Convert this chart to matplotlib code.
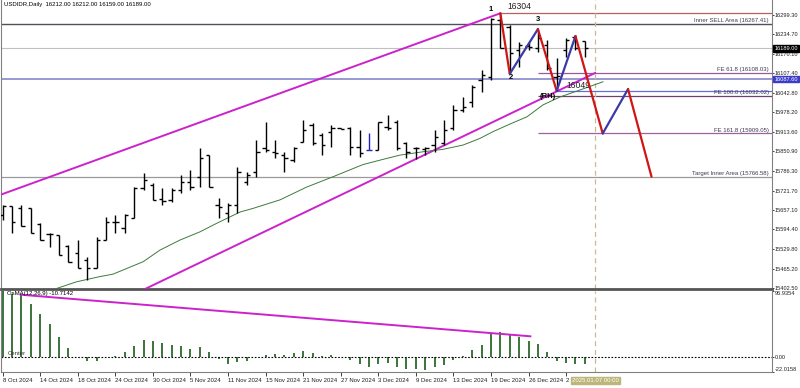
import matplotlib
matplotlib.use('Agg')
import matplotlib.pyplot as plt
from matplotlib import font_manager
from matplotlib.transforms import blended_transform_factory

# narrow font to mimic the terminal's small pixel font
names = {f.name for f in font_manager.fontManager.ttflist}
if 'Liberation Sans Narrow' in names:
    FONT, fs = 'Liberation Sans Narrow', 5.0
else:
    FONT, fs = 'Liberation Sans', 4.3
plt.rcParams['font.family'] = [FONT, 'DejaVu Sans']
fs_axis = fs * 0.94

# USDIDR daily bars, 8 Oct 2024 .. 6 Jan 2025 (bar index 0..62)
opens = [15641, 15671, 15663, 15663, 15612, 15579, 15576, 15540, 15516, 15494,
         15466, 15559, 15619, 15598, 15630, 15729, 15740, 15693, 15691, 15723,
         15751, 15767, 15838, 15674, 15647, 15674, 15751, 15784, 15860, 15849,
         15838, 15822, 15882, 15937, 15904, 15915, 15926, 15926, 15866, 15855,
         15855, 15931, 15948, 15878, 15861, 15858, 15871, 15877, 15926, 15986,
         16013, 16085, 16096, 16282, 16260, 16183, 16196, 16190, 16200, 16095,
         16183, 16226, 16212]
highs = [15674, 15671, 15674, 15663, 15614, 15581, 15576, 15543, 15559, 15504,
         15570, 15634, 15641, 15644, 15734, 15778, 15745, 15729, 15729, 15773,
         15789, 15860, 15838, 15696, 15680, 15800, 15784, 15888, 15948, 15888,
         15849, 15866, 15953, 15943, 15910, 15937, 15928, 15931, 15920, 15910,
         15948, 15970, 15953, 15882, 15866, 15866, 15920, 15953, 16003, 16028,
         16068, 16118, 16290, 16304, 16265, 16211, 16211, 16252, 16216, 16157,
         16223, 16231, 16212]
lows = [15625, 15581, 15605, 15581, 15559, 15537, 15510, 15488, 15466, 15428,
        15466, 15559, 15581, 15581, 15630, 15723, 15691, 15674, 15685, 15713,
        15723, 15734, 15734, 15630, 15619, 15647, 15740, 15767, 15849, 15828,
        15784, 15816, 15882, 15871, 15838, 15866, 15923, 15838, 15833, 15855,
        15855, 15920, 15855, 15828, 15824, 15838, 15849, 15871, 15920, 15981,
        15997, 16046, 16085, 16189, 16105, 16128, 16183, 16177, 16118, 16049,
        16160, 16183, 16159]
closes = [15671, 15619, 15605, 15581, 15559, 15578, 15510, 15488, 15466, 15466,
          15559, 15619, 15617, 15641, 15729, 15756, 15691, 15688, 15723, 15751,
          15734, 15828, 15734, 15669, 15674, 15784, 15773, 15849, 15855, 15844,
          15828, 15860, 15920, 15877, 15871, 15926, 15925, 15866, 15844, 15855,
          15946, 15926, 15860, 15848, 15860, 15861, 15899, 15920, 15986, 15997,
          16063, 16101, 16284, 16190, 16172, 16200, 16192, 16222, 16124, 16098,
          16216, 16190, 16189]
blue_bar = 39

osma = [96.9, 93.0, 93.0, 77.9, 63.2, 48.5, 29.4, 13.2, 0.5, -6.3,
        -5.4, 0.3, 1.5, 6.9, 16.6, 24.5, 23.1, 20.6, 17.2, 16.2,
        11.8, 14.7, 7.3, -2.5, -10.3, -7.3, -6.3, -0.5, 2.9, 4.8,
        3.4, 5.9, 9.3, 6.3, 0.8, 2.3, 0.4, -4.0, -10.3, -14.7,
        -10.3, -9.3, -14.0, -17.2, -17.2, -18.7, -14.7, -11.3, -4.0, 1.9,
        10.7, 17.2, 33.8, 36.7, 31.9, 28.9, 23.1, 19.1, 7.3, -5.4,
        -8.8, -10.3, -10.7]

# moving average trace (bar index, price)
ma_x = [5.75, 7.88, 10.36, 11.75, 14.97, 16.75, 18.88, 21.01, 22.79, 25.27,
        26.66, 29.53, 32.37, 35.18, 38.37, 40.5, 42.31, 44.76, 46.89, 49.02,
        50.83, 52.21, 54.02, 55.84, 57.54, 59.35, 61.48, 63.93]
ma_y = [15400, 15422, 15439, 15447, 15488, 15526, 15559, 15586, 15614, 15651,
        15663, 15691, 15733, 15767, 15807, 15824, 15838, 15849, 15857, 15871,
        15893, 15915, 15940, 15964, 16003, 16029, 16052, 16079]

# channel lines
upper_x = [-0.3, 53]
upper_y = [15707, 16304]
lower_x = [14.94, 63.1]
lower_y = [15395, 16108]

# zigzag wave count (existing + projection)
zz_x = [53, 54, 57, 59, 61, 63.9, 66.6, 69.1]
zz_y = [16304, 16105, 16252, 16049, 16229, 15909, 16055, 15767]

# levels
inner_sell = 16267.41
fe618 = 16108.03
fe100 = 16032.02
fe1618 = 15909.05
target = 15766.58
top_level = 16304
low_level = 16049
blue_level = 16087.60
bid = 16189.00

price_ticks = [16299.30, 16234.70, 16170.10, 16107.40, 16042.80, 15978.20,
               15913.60, 15850.90, 15786.30, 15721.70, 15657.10, 15594.40,
               15529.80, 15465.20, 15402.50]
date_pos = list(range(0, 61, 4))
date_labels = ['8 Oct 2024', '14 Oct 2024', '18 Oct 2024', '24 Oct 2024',
               '30 Oct 2024', '5 Nov 2024', '11 Nov 2024', '15 Nov 2024',
               '21 Nov 2024', '27 Nov 2024', '3 Dec 2024', '9 Dec 2024',
               '13 Dec 2024', '19 Dec 2024', '26 Dec 2024', '2 Jan 2025']

osma_div_x = [1.9, 56.2]
osma_div_y = [91.5, 30.4]
cursor_x = 63.1

fig = plt.figure(figsize=(8, 3.88), dpi=100)
W, H = 800, 388
ax = fig.add_axes([1 / W, 1 - 289 / H, 771 / W, 289 / H])
ax2 = fig.add_axes([1 / W, 1 - 372 / H, 771 / W, 81 / H])

XL = (-0.18, 81.93)
ax.set_xlim(*XL)
ax.set_ylim(15398.2, 16347.6)
ax2.set_xlim(*XL)
ax2.set_ylim(-22.0158, 96.9354)

lvl_txt = '#3c3c50'

# full-width horizontal lines
ax.axhline(inner_sell, color='#505058', lw=1.0)
ax.axhline(bid, color='#c0c0c0', lw=0.8)
ax.axhline(blue_level, color='#8888cc', lw=1.2)
ax.axhline(target, color='#9a9a9a', lw=0.9)
# partial lines
ax.hlines(top_level, 53, XL[1], color='#b86060', lw=0.9)
ax.hlines([fe618, fe100, fe1618], 57, XL[1], color=['#9a5a9a', '#6e406e', '#a060a0'], lw=0.9)
ax.hlines(low_level, 59, XL[1], color='#6a6ae0', lw=0.9)

for y, s in [(inner_sell, 'Inner SELL Area (16267.41)'), (fe618, 'FE 61.8 (16108.03)'),
             (fe100, 'FE 100.0 (16032.02)'), (fe1618, 'FE 161.8 (15909.05)'),
             (target, 'Target Inner Area (15766.58)')]:
    ax.text(81.6, y + 3, s, ha='right', va='bottom', fontsize=fs, color=lvl_txt)

# channel and MA
ax.plot(upper_x, upper_y, color='#cc22cc', lw=1.4, zorder=3)
ax.plot(lower_x, lower_y, color='#cc22cc', lw=1.4, zorder=3)
ax.plot(ma_x, ma_y, color='#3d7a3d', lw=0.7, zorder=3)

# OHLC bars
idx = list(range(len(opens)))
cols = ['#2020c0' if i == blue_bar else 'black' for i in idx]
ax.vlines(idx, lows, highs, colors=cols, lw=1.0, zorder=4)
ax.hlines(opens, [i - 0.35 for i in idx], idx, colors=cols, lw=1.0, zorder=4)
ax.hlines(closes, idx, [i + 0.35 for i in idx], colors=cols, lw=1.0, zorder=4)

# zigzag
for k in range(len(zz_x) - 1):
    c = '#d01515' if zz_y[k + 1] < zz_y[k] else '#3a3aa8'
    ax.plot(zz_x[k:k + 2], zz_y[k:k + 2], color=c, lw=1.6, zorder=5,
            solid_capstyle='round')

ann = dict(fontsize=6.2, va='center', ha='left', color='#202020', family='Liberation Sans')
ax.text(53.7, 16325, '16304', **ann)
ax.text(60.0, 16068, '16049', **ann)
bold = dict(fontsize=5.5, fontweight='bold', ha='center', va='center', family='Liberation Sans')
ax.text(52.0, 16318, '1', **bold)
ax.text(54.1, 16094, '2', **bold)
ax.text(57.0, 16285, '3', **bold)
ax.text(58.1, 16030, '(RH)', **bold)

ax.axvline(cursor_x, color='#c8bc96', lw=0.9, ls=(0, (4, 3)))
ax2.axvline(cursor_x, color='#c8bc96', lw=0.9, ls=(0, (4, 3)))

# oscillator
ax2.vlines(idx, 0, osma, colors='#2a6a2a', lw=1.3)
ax2.axhline(0, color='black', lw=0.8, ls=(0, (1.5, 1.5)))
ax2.plot(osma_div_x, osma_div_y, color='#cc22cc', lw=1.4)
ax2.text(0.5, 93.5, 'OsMA(12,26,9) -10.7142', fontsize=fs, va='center', ha='left')
ax2.text(0.5, 4.5, 'Center', fontsize=fs, va='center', ha='left', color='#303030')

# axes styling
for a in (ax, ax2):
    a.set_facecolor('white')
    a.yaxis.tick_right()
    a.tick_params(axis='y', length=1.5, width=0.6, labelsize=fs_axis, pad=0.6, colors='#202020')
    for s in a.spines.values():
        s.set_color('#808080')
        s.set_linewidth(0.8)
ax.spines['bottom'].set_color('#555555')
ax.spines['bottom'].set_linewidth(2.0)
ax.spines['top'].set_visible(False)
ax.set_xticks([])
ax.set_yticks(price_ticks)
ax.set_yticklabels(['%.2f' % v for v in price_ticks])

ax2.spines['top'].set_visible(False)
ax2.set_yticks([96.9354, 0, -22.0158])
ax2.set_yticklabels(['96.9354', '0.00', '-22.0158'])
ax2.get_yticklabels()[0].set_va('top')
ax2.get_yticklabels()[2].set_va('bottom')
ax2.set_xticks(date_pos)
ax2.set_xticklabels(date_labels, ha='left')
ax2.tick_params(axis='x', length=3, width=0.6, labelsize=fs, pad=1.5, colors='#202020')

# boxed labels on the price axis
tr = blended_transform_factory(ax.transAxes, ax.transData)
ax.text(1.003, bid, '16189.00', transform=tr, fontsize=fs_axis, color='white', va='center',
        ha='left', bbox=dict(boxstyle='square,pad=0.15', fc='black', ec='black'), zorder=6)
ax.text(1.003, blue_level, '16087.60', transform=tr, fontsize=fs_axis, color='white', va='center',
        ha='left', bbox=dict(boxstyle='square,pad=0.15', fc='#3c3cc8', ec='#3c3cc8'), zorder=6)

tr2 = blended_transform_factory(ax2.transData, ax2.transAxes)
ax2.text(cursor_x, -0.07, '2025.01.07 00:00', transform=tr2, fontsize=fs, color='white',
         ha='center', va='top', bbox=dict(boxstyle='square,pad=0.15', fc='#bdb67a', ec='#bdb67a'),
         zorder=6, clip_on=False)

fig.text(4 / W, 1 - 4.5 / H, 'USDIDR,Daily  16212.00 16212.00 16159.00 16189.00',
         fontsize=fs, va='center', ha='left')

fig.savefig('out.png', dpi=100, facecolor='white')
